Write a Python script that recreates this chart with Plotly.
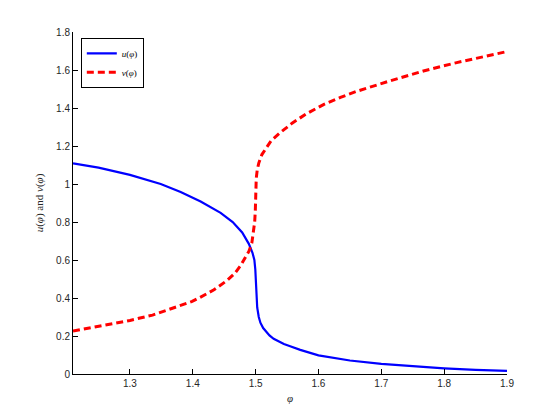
import plotly.graph_objects as go

phi_u = [1.2094, 1.25, 1.30, 1.3171, 1.349, 1.3807, 1.4125, 1.4443, 1.4635, 1.4786, 1.4892,
         1.495, 1.498, 1.4995, 1.5003, 1.5012, 1.5025, 1.505, 1.5076, 1.512,
         1.517, 1.522, 1.5287, 1.536, 1.545, 1.555, 1.571, 1.60, 1.65, 1.70, 1.75, 1.80, 1.85, 1.90]
u_vals = [1.109, 1.086, 1.048, 1.032, 1.0, 0.958, 0.908, 0.848, 0.800, 0.745, 0.685,
          0.638, 0.60, 0.55, 0.47, 0.40, 0.35, 0.30, 0.270, 0.242,
          0.220, 0.203, 0.185, 0.171, 0.158, 0.146, 0.127, 0.098, 0.071, 0.053, 0.040, 0.030, 0.022, 0.016]

phi_v = [1.2094, 1.25, 1.30, 1.336, 1.354, 1.3807, 1.399, 1.4125, 1.4337, 1.4549, 1.467, 1.476,
         1.4835, 1.4892, 1.494, 1.497, 1.4985, 1.4995, 1.500, 1.5003, 1.501, 1.5026, 1.505,
         1.510, 1.5156, 1.5248, 1.5394, 1.558, 1.58, 1.608, 1.635, 1.661, 1.714, 1.767,
         1.82, 1.86, 1.90]
v_vals = [0.226, 0.25, 0.282, 0.31, 0.330, 0.358, 0.382, 0.405, 0.443, 0.493, 0.53, 0.57,
          0.61, 0.645, 0.69, 0.75, 0.80, 0.86, 0.92, 0.98, 1.03, 1.075, 1.11,
          1.155, 1.185, 1.228, 1.271, 1.320, 1.368, 1.418, 1.456, 1.488, 1.543, 1.595,
          1.639, 1.668, 1.697]

x_ticks = [1.3, 1.4, 1.5, 1.6, 1.7, 1.8, 1.9]
y_ticks = [0, 0.2, 0.4, 0.6, 0.8, 1, 1.2, 1.4, 1.6, 1.8]
y_tick_text = ["0", "0.2", "0.4", "0.6", "0.8", "1", "1.2", "1.4", "1.6", "1.8"]

serif = "Liberation Serif, serif"
sans = "Liberation Sans, Arial, sans-serif"

fig = go.Figure()
fig.add_trace(go.Scatter(x=phi_u, y=u_vals, mode="lines", name="<i>u</i>(<i>φ</i>)",
                         line=dict(color="#0000ff", width=2.2)))
fig.add_trace(go.Scatter(x=phi_v, y=v_vals, mode="lines", name="<i>v</i>(<i>φ</i>)",
                         line=dict(color="#ff0000", width=3, dash="7px,4px")))

axis_common = dict(showline=True, linecolor="black", linewidth=1, mirror=False,
                   ticks="inside", ticklen=5, tickcolor="black", showgrid=False, zeroline=False,
                   tickfont=dict(family=sans, size=10, color="#262626"))

fig.update_layout(
    width=560, height=420,
    margin=dict(l=65, r=61, t=23.5, b=54.2),
    paper_bgcolor="white", plot_bgcolor="white",
    xaxis=dict(range=[1.2094, 1.9], tickvals=x_ticks, ticktext=[str(t) for t in x_ticks],
               title=dict(text="<i>φ</i>", font=dict(family=serif, size=11, color="#262626"), standoff=6),
               **axis_common),
    yaxis=dict(range=[0, 1.8], tickvals=y_ticks, ticktext=y_tick_text,
               title=dict(text="<i>u</i>(<i>φ</i>) and <i>v</i>(<i>φ</i>)", font=dict(family=serif, size=11, color="#262626"), standoff=10),
               **axis_common),
    legend=dict(x=0.018, y=0.983, xanchor="left", yanchor="top", bgcolor="white",
                bordercolor="black", borderwidth=1, font=dict(family=serif, size=9, color="black"),
                tracegroupgap=0, itemwidth=30),
    showlegend=True,
)

fig.write_html("out.html")
